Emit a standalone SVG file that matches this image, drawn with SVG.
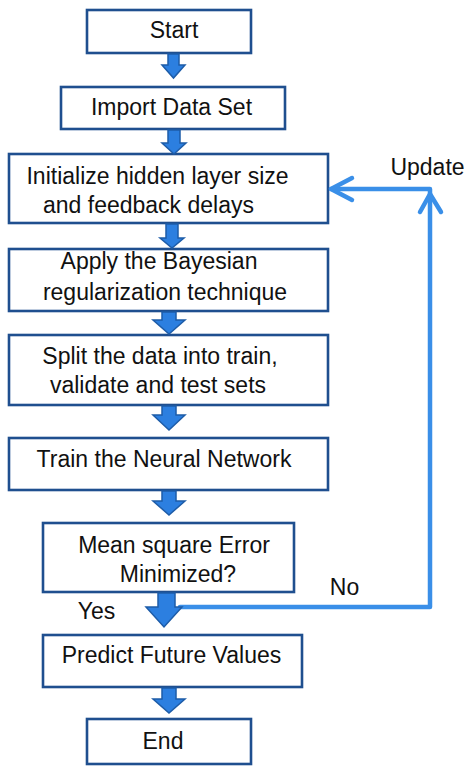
<svg xmlns="http://www.w3.org/2000/svg" width="474" height="775" viewBox="0 0 474 775">
<defs>
<style>
.box{fill:#fff;stroke:#1f4f8f;stroke-width:2.6}
.t{font-family:"Liberation Sans",Arial,sans-serif;font-size:23px;fill:#111;text-anchor:middle}
.blk{fill:#2c7fe0;stroke:#1d5ca8;stroke-width:1.5;stroke-linejoin:miter}
.fb{fill:none;stroke:#3a8fe8;stroke-width:4.5;stroke-linecap:round;stroke-linejoin:round}
</style>
</defs>
<rect width="474" height="775" fill="#fff"/>
<g id="start"><rect class="box" x="87" y="10" width="164" height="43"/><text class="t" x="174" y="38">Start</text></g>
<g id="import"><rect class="box" x="61" y="87" width="224" height="42"/><text class="t" x="171.5" y="115">Import Data Set</text></g>
<g id="init"><rect class="box" x="9" y="154" width="319" height="69"/><text class="t" x="157.5" y="184">Initialize hidden layer size</text><text class="t" x="148.5" y="213">and feedback delays</text></g>
<g id="apply"><rect class="box" x="9" y="249" width="319" height="62"/><text class="t" x="159" y="269">Apply the Bayesian</text><text class="t" x="165" y="300">regularization technique</text></g>
<g id="split"><rect class="box" x="9" y="335" width="319" height="70"/><text class="t" x="160" y="364">Split the data into train,</text><text class="t" x="158" y="393">validate and test sets</text></g>
<g id="train"><rect class="box" x="9" y="438" width="319" height="52"/><text class="t" x="164" y="467">Train the Neural Network</text></g>
<g id="mse"><rect class="box" x="43" y="523" width="251" height="69"/><text class="t" x="174" y="553">Mean square Error</text><text class="t" x="178" y="582">Minimized?</text></g>
<g id="predict"><rect class="box" x="43" y="635" width="259" height="52"/><text class="t" x="171.5" y="663">Predict Future Values</text></g>
<g id="end"><rect class="box" x="87" y="719" width="164" height="45"/><text class="t" x="163" y="749">End</text></g>
<g id="connectors">
<polyline class="fb" points="180,607 430,607 430,189 331,189"/>
<polyline class="fb" points="352,178 331,189 352,200"/>
<polyline class="fb" points="420,212 430,194 441,212"/>
<path class="blk" d="M168,54 H179 V65 H185 L173.5,78 L162,65 H168 Z"/>
<path class="blk" d="M168,130 H180 V143 H186 L174,154 L162,143 H168 Z"/>
<path class="blk" d="M166,224 H178 V238 H184 L172,248 L160,238 H166 Z"/>
<path class="blk" d="M162,312 H176 V320 H185 L169,334 L153,320 H162 Z"/>
<path class="blk" d="M162,406 H176 V415 H185 L169,430 L153,415 H162 Z"/>
<path class="blk" d="M162,491 H176 V501 H185 L169,515 L153,501 H162 Z"/>
<path class="blk" d="M158,593 H175 V607 H182 L164,627 L146,607 H158 Z"/>
<path class="blk" d="M162,688 H176 V699 H185 L169,713 L153,699 H162 Z"/>
</g>
<g id="labels">
<text class="t" x="427.5" y="175">Update</text>
<text class="t" x="344.5" y="595">No</text>
<text class="t" x="96.5" y="619">Yes</text>
</g>
</svg>
